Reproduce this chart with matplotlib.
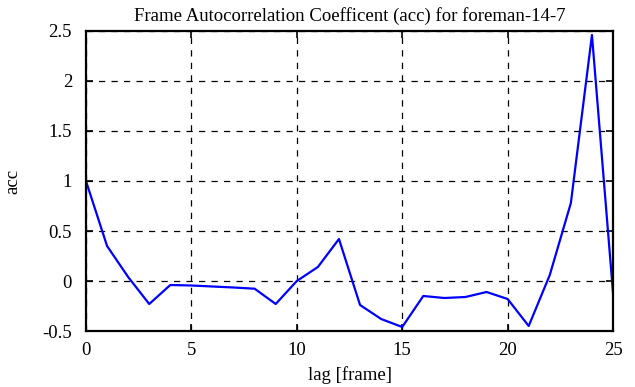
import matplotlib
matplotlib.use("Agg")
from matplotlib import pyplot as plt
import numpy as np

# %% data
lag = np.arange(0, 26)
acc = [1.0, 0.35, 0.04, -0.23, -0.04, -0.045, -0.055, -0.065, -0.077, -0.23,
       0.0, 0.14, 0.42, -0.24, -0.38, -0.46, -0.15, -0.17, -0.16, -0.11,
       -0.18, -0.45, 0.06, 0.78, 2.46, -0.12]

x_ticks = [0, 5, 10, 15, 20, 25]
y_ticks = [-0.5, 0, 0.5, 1, 1.5, 2, 2.5]
y_tick_labels = ["-0.5", "0", "0.5", "1", "1.5", "2", "2.5"]

# %% plot
plt.rcParams["font.family"] = ["Liberation Serif", "DejaVu Serif"]
fig = plt.figure(figsize=(6.35, 3.87), dpi=100)
ax = fig.add_axes([0.1354, 0.1447, 0.83, 0.7752])

ax.plot(lag, acc, color="#0000ff", linewidth=1.6)

ax.set_xlim(0, 25)
ax.set_ylim(-0.5, 2.5)
ax.set_xticks(x_ticks)
ax.set_yticks(y_ticks)
ax.set_yticklabels(y_tick_labels)
ax.tick_params(direction="in", top=True, right=True, length=5, width=1.2,
               labelsize=13.5)
ax.tick_params(axis="y", pad=10)
ax.tick_params(axis="x", pad=8)
ax.grid(True, color="black", linestyle=(0, (5, 5)), linewidth=0.9)
for s in ax.spines.values():
    s.set_linewidth(1.6)

ax.set_xlabel("lag [frame]", fontsize=13.5, labelpad=5)
ax.set_ylabel("acc", fontsize=13.5)
ax.yaxis.set_label_coords(-0.122, 0.5)
ax.set_title("Frame Autocorrelation Coefficent (acc) for foreman-14-7", fontsize=13.5, pad=7)

fig.savefig("out.png", dpi=100)
